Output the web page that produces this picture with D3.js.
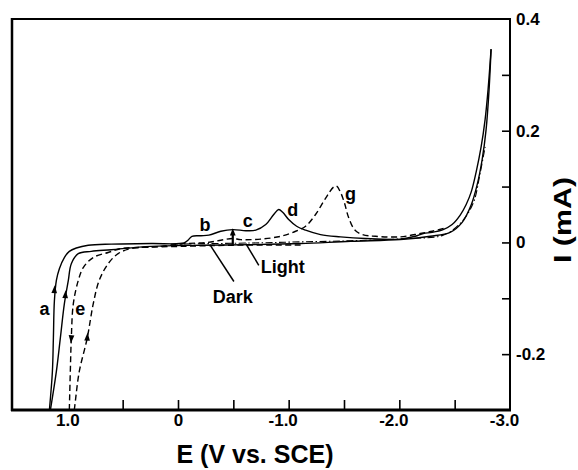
<!DOCTYPE html>
<html>
<head>
<meta charset="utf-8">
<script src="https://cdn.jsdelivr.net/npm/d3@7"></script>
<style>
  body { margin: 0; background: #fff; }
  svg { display: block; }
  text { font-family: "Liberation Sans", Arial, sans-serif; font-weight: bold; fill: #000; }
</style>
</head>
<body>
<div id="chart"></div>
<script>
// curves as [E (V vs. SCE), I (mA)]
const solidSweep = [[1.162,-0.3],[1.135,-0.231],[1.126,-0.171],[1.117,-0.105],[1.099,-0.068],[1.072,-0.047],
  [1.027,-0.027],[0.982,-0.016],[0.919,-0.010],[0.811,-0.005],[0.604,-0.003],[0.243,-0.002],[-0.054,-0.001],
  [-0.090,0.004],[-0.126,0.011],[-0.207,0.012],[-0.279,0.013],[-0.387,0.020],[-0.495,0.023],[-0.613,0.021],
  [-0.703,0.022],[-0.793,0.032],[-0.865,0.050],[-0.910,0.059],[-0.946,0.054],[-1.000,0.041],[-1.072,0.029],
  [-1.153,0.022],[-1.288,0.014],[-1.468,0.010],[-1.694,0.007],[-2.009,0.006],[-2.144,0.011],[-2.216,0.016],
  [-2.297,0.018],[-2.396,0.023],[-2.477,0.032],[-2.550,0.049],[-2.604,0.068],[-2.649,0.090],[-2.694,0.126],
  [-2.739,0.171],[-2.775,0.220],[-2.802,0.274],[-2.829,0.346]];
const solidReturn = [[-2.829,0.346],[-2.811,0.274],[-2.784,0.202],[-2.748,0.148],[-2.703,0.103],[-2.649,0.067],
  [-2.568,0.036],[-2.459,0.018],[-2.279,0.011],[-2.009,0.005],[-1.559,0.002],[-1.108,-0.002],[-0.658,-0.004],
  [-0.207,-0.005],[0.243,-0.007],[0.604,-0.013],[0.784,-0.016],[0.901,-0.020],[0.964,-0.038],[0.991,-0.068],
  [1.027,-0.110],[1.063,-0.171],[1.099,-0.231],[1.153,-0.3]];
const dashedSweep = [[0.937,-0.3],[0.928,-0.285],[0.892,-0.231],[0.820,-0.171],[0.766,-0.110],[0.712,-0.068],
  [0.631,-0.038],[0.541,-0.020],[0.423,-0.011],[0.153,-0.007],[-0.072,-0.002],[-0.270,0.000],[-0.387,0.004],
  [-0.495,0.007],[-0.568,0.005],[-0.748,0.006],[-0.928,0.011],[-1.063,0.020],[-1.153,0.029],[-1.243,0.050],
  [-1.333,0.079],[-1.405,0.099],[-1.432,0.101],[-1.468,0.090],[-1.505,0.070],[-1.541,0.045],[-1.595,0.023],
  [-1.667,0.014],[-1.784,0.011],[-2.009,0.010],[-2.189,0.016],[-2.297,0.020],[-2.40,0.025]];
const dashedReturn = [[-1.108,-0.0045],[-0.477,-0.005],[-0.027,-0.007],[0.333,-0.009],[0.514,-0.011],[0.631,-0.018],
  [0.766,-0.027],[0.856,-0.045],[0.901,-0.068],[0.946,-0.110],[0.964,-0.171],[0.973,-0.231],[0.982,-0.3]];
const dashDotSweep = [[0.063,-0.003],[-0.658,-0.001],[-1.108,0.001],[-1.559,0.003],[-2.072,0.007],[-2.396,0.013],
  [-2.55,0.034],[-2.667,0.070],[-2.730,0.124],[-2.775,0.171]];

const xTicks = [0.5, 0, -0.5, -1.0, -1.5, -2.0, -2.5];
const xTickLabels = [1.0, 0, -1.0, -2.0, -3.0];
const yTicks = [0.3, 0.2, 0.1, 0, -0.1, -0.2];
const yTickLabels = [0.4, 0.2, 0, -0.2];

// letters and notes, placed at [E, I]
const curveLetters = [["a",1.207,-0.130],["e",0.883,-0.130],["b",-0.243,0.020],["c",-0.631,0.027],
  ["d",-1.036,0.047],["g",-1.559,0.076]];
const notes = [["Dark",-0.315,-0.108],["Light",-0.748,-0.054]];
const noteLines = [[[-0.505,-0.070],[-0.288,-0.004]],[[-0.730,-0.041],[-0.613,-0.002]]];
// arrowheads on the sweeps: [E, I, direction]
const sweepArrows = [[1.117,-0.086,"up"],[1.018,-0.095,"up"],[0.820,-0.171,"up"],[0.964,-0.171,"down"]];
const lightJump = [[-0.495,-0.004],[-0.495,0.022]];

const w = 578, h = 470;
const svg = d3.select("#chart").append("svg").attr("width", w).attr("height", h);

const x = d3.scaleLinear().domain([1.5, -3.0]).range([12, 510]);
const y = d3.scaleLinear().domain([-0.3, 0.4]).range([410, 19]);

svg.append("clipPath").attr("id", "plot")
  .append("rect").attr("x", 12).attr("y", 19).attr("width", 498).attr("height", 391);

const line = d3.line().x(d => x(d[0])).y(d => y(d[1])).curve(d3.curveCatmullRom.alpha(0.5));
const curves = svg.append("g").attr("clip-path", "url(#plot)")
  .attr("fill", "none").attr("stroke", "#000").attr("stroke-width", 1.4);

curves.append("path").attr("d", line(solidSweep));
curves.append("path").attr("d", line(solidReturn));
curves.append("path").attr("d", line(dashedSweep)).attr("stroke-dasharray", "6,3.5");
curves.append("path").attr("d", line(dashedReturn)).attr("stroke-dasharray", "6,3.5");
curves.append("path").attr("d", line(dashDotSweep)).attr("stroke-dasharray", "7,2.5,1.5,2.5").attr("stroke-width", 1.1);

// arrowheads
const tri = d3.symbol().type(d3.symbolTriangle).size(22);
svg.selectAll(".arr").data(sweepArrows).enter().append("path")
  .attr("d", tri)
  .attr("transform", d => `translate(${x(d[0])},${y(d[1])}) rotate(${d[2] === "up" ? 4 : 184}) scale(0.8,1.3)`)
  .attr("fill", "#000");

// light-on jump
svg.append("line")
  .attr("x1", x(lightJump[0][0])).attr("y1", y(lightJump[0][1]))
  .attr("x2", x(lightJump[1][0])).attr("y2", y(lightJump[1][1]) + 4)
  .attr("stroke", "#000").attr("stroke-width", 2.2);
svg.append("path").attr("d", tri)
  .attr("transform", `translate(${x(lightJump[1][0])},${y(lightJump[1][1]) + 3}) scale(0.8,1.2)`)
  .attr("fill", "#000");

// frame
const frame = svg.append("g").attr("stroke", "#000").attr("fill", "none");
frame.append("line").attr("x1", 12).attr("x2", 12).attr("y1", 18).attr("y2", 411).attr("stroke-width", 2.5);
frame.append("line").attr("x1", 11).attr("x2", 511).attr("y1", 19).attr("y2", 19).attr("stroke-width", 2.2);
frame.append("line").attr("x1", 510).attr("x2", 510).attr("y1", 18).attr("y2", 411).attr("stroke-width", 2);
frame.append("line").attr("x1", 11).attr("x2", 511).attr("y1", 410).attr("y2", 410).attr("stroke-width", 3);

const fmt = d => d === 0 ? "0" : d.toFixed(1);

// bottom axis
const xt = svg.append("g").attr("transform", "translate(0,410)")
  .call(d3.axisBottom(x).tickValues(xTicks).tickSize(-10).tickFormat(""));
xt.select(".domain").remove();
xt.selectAll("line").attr("stroke-width", 1.6);

const xl = svg.append("g").attr("transform", "translate(0,410)")
  .call(d3.axisBottom(x).tickValues(xTickLabels).tickSize(0).tickPadding(4).tickFormat(fmt));
xl.select(".domain").remove();
xl.attr("font-size", null).attr("font-family", null);
xl.selectAll("text").style("font-size", "17px").attr("dx", d => d < 0 ? -6 : 0);

// right axis
const yt = svg.append("g").attr("transform", "translate(510,0)")
  .call(d3.axisRight(y).tickValues(yTicks).tickSize(-8).tickFormat(""));
yt.select(".domain").remove();
yt.selectAll("line").attr("stroke-width", 1.6);

const yl = svg.append("g").attr("transform", "translate(510,0)")
  .call(d3.axisRight(y).tickValues(yTickLabels).tickSize(0).tickPadding(6).tickFormat(fmt));
yl.select(".domain").remove();
yl.attr("font-size", null).attr("font-family", null);
yl.selectAll("text").style("font-size", "17px");

// titles
svg.append("text").attr("x", 255).attr("y", 463).attr("text-anchor", "middle")
  .style("font-size", "25px").text("E (V vs. SCE)");
svg.append("text").attr("transform", "translate(571,220) rotate(-90)").attr("text-anchor", "middle")
  .style("font-size", "24px").attr("textLength", 86).attr("lengthAdjust", "spacingAndGlyphs").text("I (mA)");

// curve letters
svg.selectAll(".lett").data(curveLetters).enter().append("text")
  .attr("x", d => x(d[1])).attr("y", d => y(d[2])).attr("text-anchor", "middle")
  .style("font-size", "18px").text(d => d[0]);

// Dark / Light notes
svg.selectAll(".note").data(notes).enter().append("text")
  .attr("x", d => x(d[1])).attr("y", d => y(d[2])).style("font-size", "18px").text(d => d[0]);
svg.selectAll(".nline").data(noteLines).enter().append("line")
  .attr("x1", d => x(d[0][0])).attr("y1", d => y(d[0][1]))
  .attr("x2", d => x(d[1][0])).attr("y2", d => y(d[1][1]))
  .attr("stroke", "#000").attr("stroke-width", 1.5);
</script>
</body>
</html>
